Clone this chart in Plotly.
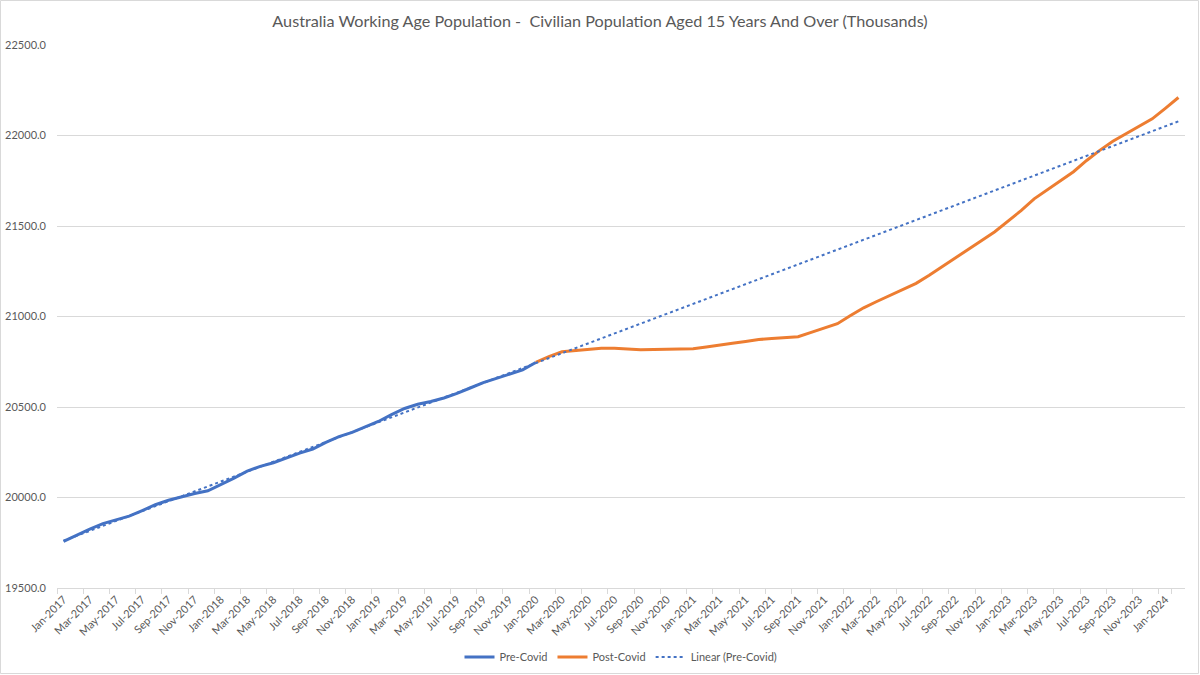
import numpy as np
import pandas as pd
import plotly.graph_objects as go

# ---- data ----
months = [d.strftime("%b-%Y") for d in pd.date_range("2017-01-01", "2024-02-01", freq="MS")]

pre_covid = [19757, 19792, 19825, 19856, 19878, 19897, 19928, 19960, 19985, 20005,
             20022, 20037, 20070, 20107, 20146, 20172, 20192, 20220, 20245, 20268,
             20305, 20336, 20360, 20390, 20420, 20458, 20492, 20515, 20530, 20550,
             20575, 20605, 20635, 20658, 20680, 20705, 20746]          # Jan-2017 .. Jan-2020

post_covid = [20746, 20778, 20805, 20810, 20818, 20824, 20824, 20818, 20816, 20817,
              20818, 20819, 20822, 20832, 20840, 20852, 20862, 20873, 20878, 20882,
              20888, 20912, 20936, 20960, 21005, 21048, 21083, 21116, 21150, 21183,
              21228, 21275, 21322, 21372, 21420, 21468, 21525, 21585, 21650, 21700,
              21750, 21800, 21862, 21918, 21968, 22010, 22050, 22092, 22150, 22210]  # Jan-2020 .. Feb-2024

pre_x = months[:len(pre_covid)]
post_x = months[len(pre_covid) - 1:]

# linear trendline (Excel style) fitted on pre-covid, forecast to end
idx = np.arange(len(pre_covid))
slope, intercept = np.polyfit(idx, pre_covid, 1)
trend = intercept + slope * np.arange(len(months))

tick_labels = months[::2]

GRAY = "#595959"
GRID = "#D9D9D9"
FONT = "Lato"

fig = go.Figure()
fig.add_trace(go.Scatter(x=pre_x, y=pre_covid, mode="lines", name="Pre-Covid",
                         line=dict(color="#4472C4", width=3)))
fig.add_trace(go.Scatter(x=post_x, y=post_covid, mode="lines", name="Post-Covid",
                         line=dict(color="#ED7D31", width=3)))
fig.add_trace(go.Scatter(x=months, y=trend, mode="lines", name="Linear (Pre-Covid)",
                         line=dict(color="#4472C4", width=2, dash="dot")))

W, H = 1200, 675
ml, mr, mt, mb = 57, 15, 45, 87
pw, ph = W - ml - mr, H - mt - mb

fig.update_layout(
    width=W, height=H,
    margin=dict(l=ml, r=mr, t=mt, b=mb, autoexpand=False),
    paper_bgcolor="white", plot_bgcolor="white",
    font=dict(family=FONT, color=GRAY, size=11),
    title=dict(text="Australia Working Age Population -  Civilian Population Aged 15 Years And Over (Thousands)",
               x=0.5, xanchor="center", y=1 - 21 / H, yanchor="middle",
               font=dict(family=FONT, size=16.2, color=GRAY)),
    showlegend=True,
    legend=dict(orientation="h", x=0.5, xanchor="center", y=-(657 - (mt + ph)) / ph, yanchor="middle",
                font=dict(size=11, color=GRAY), bgcolor="rgba(0,0,0,0)"),
    xaxis=dict(type="category", categoryorder="array", categoryarray=months,
               range=[-0.5, len(months) - 0.5], automargin=False,
               tickmode="array", tickvals=tick_labels, ticktext=tick_labels,
               tickangle=-45, tickson="boundaries", ticks="outside", ticklen=5,
               tickcolor=GRID, showline=True, linecolor=GRID, linewidth=1,
               showgrid=False, zeroline=False, tickfont=dict(size=11, color=GRAY)),
    yaxis=dict(range=[19500, 22500], dtick=500, tick0=19500, tickformat=".1f",
               automargin=False,
               showgrid=True, gridcolor=GRID, gridwidth=1, zeroline=False,
               showline=False, ticks="", tickfont=dict(size=11, color=GRAY),
               ticklabelstandoff=10),
    shapes=[dict(type="rect", xref="paper", yref="paper",
                 x0=(0.5 - ml) / pw, x1=(W - 1.5 - ml) / pw,
                 y0=-(H - 1.5 - mt - ph) / ph, y1=1 + (mt - 0.5) / ph,
                 line=dict(color=GRID, width=1), fillcolor="rgba(0,0,0,0)", layer="below")],
)

fig.write_html("out.html")
